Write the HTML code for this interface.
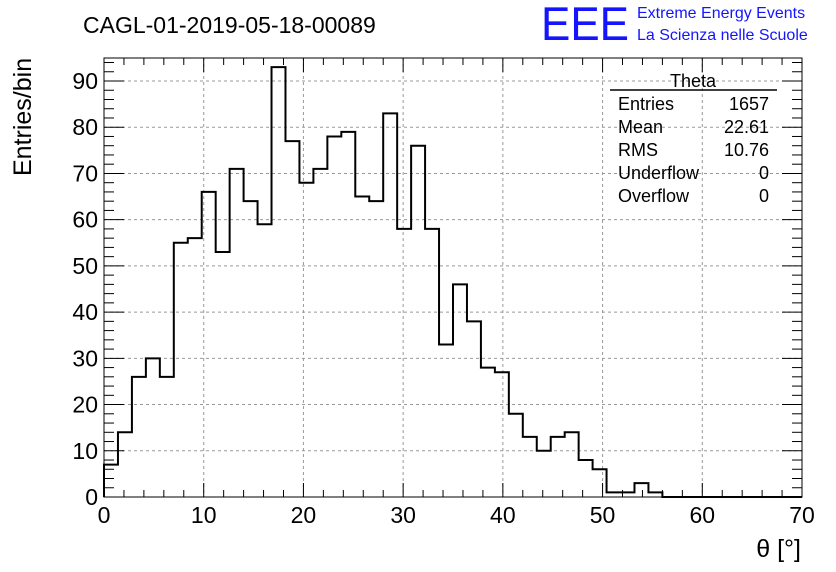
<!DOCTYPE html>
<html><head><meta charset="utf-8"><style>
body{margin:0;background:#fff;}
svg{display:block;font-family:"Liberation Sans",sans-serif;}
</style></head><body>
<svg id="chart" width="836" height="572" viewBox="0 0 836 572" xmlns="http://www.w3.org/2000/svg">
<rect width="836" height="572" fill="#fff"/>
<text x="83" y="33" font-size="23">CAGL-01-2019-05-18-00089</text>
<text x="541" y="40" font-size="47" fill="#1414ff" textLength="88" lengthAdjust="spacingAndGlyphs">EEE</text>
<text x="637" y="18" font-size="16" fill="#1414ff">Extreme Energy Events</text>
<text x="637" y="40" font-size="16" fill="#1414ff">La Scienza nelle Scuole</text>
<g id="grid"></g>
<g id="axes"></g>
<path id="hist" fill="none" stroke="#000" stroke-width="2"/>
<rect x="104" y="58" width="698" height="439" fill="none" stroke="#000" stroke-width="1"/>
<g font-size="18">
<line x1="610" y1="90" x2="777" y2="90" stroke="#000" stroke-width="1.5"/>
<text x="693" y="87" text-anchor="middle">Theta</text>
<text x="618" y="110">Entries</text><text x="769" y="110" text-anchor="end">1657</text>
<text x="618" y="133">Mean</text><text x="769" y="133" text-anchor="end">22.61</text>
<text x="618" y="156">RMS</text><text x="769" y="156" text-anchor="end">10.76</text>
<text x="618" y="179">Underflow</text><text x="769" y="179" text-anchor="end">0</text>
<text x="618" y="202">Overflow</text><text x="769" y="202" text-anchor="end">0</text>
</g>
<text transform="translate(31,176) rotate(-90)" font-size="25">Entries/bin</text>
<text x="801" y="557" font-size="25" text-anchor="end">θ [°]</text>
</svg>
<script>
const binWidth = 1.4;
const counts = [7,14,26,30,26,55,56,66,53,71,64,59,93,77,68,71,78,79,65,64,83,58,76,58,33,46,38,28,27,18,13,10,13,14,8,6,1,1,3,1,0,0,0,0,0,0,0,0,0,0];
const xTicks = [0,10,20,30,40,50,60,70];
const yTicks = [0,10,20,30,40,50,60,70,80,90];
const X0=104,X1=802,Y0=497,YT=58;
const xs=v=>X0+(v/70)*(X1-X0);
const ys=v=>Y0-v*(Y0-81)/90;
const NS="http://www.w3.org/2000/svg";
const grid=document.getElementById('grid'),axes=document.getElementById('axes');
function mk(p,t,a){const e=document.createElementNS(NS,t);for(const k in a)e.setAttribute(k,a[k]);p.appendChild(e);return e;}
xTicks.forEach(v=>{
 if(v>0&&v<70){const g=mk(grid,'line',{x1:xs(v),x2:xs(v),y1:YT,y2:Y0,stroke:'#999','stroke-dasharray':'3,3'});
 
 }
 const t=mk(axes,'text',{x:xs(v),y:523,'font-size':23,'text-anchor':'middle'});t.textContent=v;
 
 
});
for(let v=0;v<=70;v+=2){const L=v%10==0?14:7;
 mk(axes,'line',{x1:xs(v),x2:xs(v),y1:Y0,y2:Y0-L,stroke:'#000'});
 mk(axes,'line',{x1:xs(v),x2:xs(v),y1:YT,y2:YT+L,stroke:'#000'});}
yTicks.forEach(v=>{
 if(v>0){const g=mk(grid,'line',{x1:X0,x2:X1,y1:ys(v),y2:ys(v),stroke:'#999','stroke-dasharray':'3,3'});
 
 }
 const t=mk(axes,'text',{x:98,y:ys(v)+8,'font-size':23,'text-anchor':'end'});t.textContent=v;
 
 
});
for(let v=0;v<=94;v+=2){const L=v%10==0?20:10;
 mk(axes,'line',{x1:X0,x2:X0+L,y1:ys(v),y2:ys(v),stroke:'#000'});
 mk(axes,'line',{x1:X1,x2:X1-L,y1:ys(v),y2:ys(v),stroke:'#000'});}
let d='M'+xs(0)+','+ys(0);
counts.forEach((c,i)=>{d+=' L'+xs(i*binWidth)+','+ys(c)+' L'+xs((i+1)*binWidth)+','+ys(c);});
document.getElementById('hist').setAttribute('d',d);
</script>
</body></html>
